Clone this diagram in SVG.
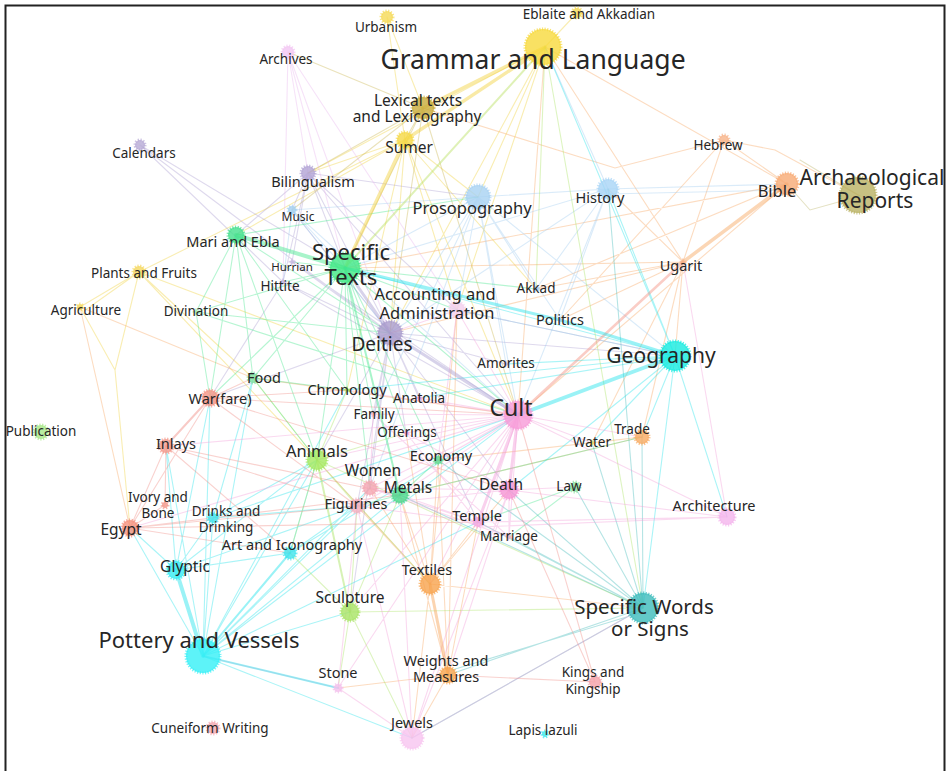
<svg xmlns="http://www.w3.org/2000/svg" width="951" height="771" viewBox="0 0 951 771">
<style>
.e{fill:none;stroke-width:1.1;stroke-opacity:.38;stroke-linecap:round}
.t{stroke-opacity:.45;stroke-linecap:round;fill:none}
.n{fill:currentColor;stroke:currentColor;stroke-width:3;stroke-dasharray:1.2 1.4;stroke-opacity:.7;fill-opacity:.8}
text{font-family:"Noto Sans","Liberation Sans",sans-serif;fill:#262626;text-anchor:middle}
.s13{font-size:13.5px}.s12{font-size:12px}.s14{font-size:14.5px}.s15{font-size:15.5px}.s16{font-size:16.5px}
</style>
<rect width="951" height="771" fill="#fff"/>
<path d="M5.5 771V5.5H944.5V771" fill="none" stroke="#222" stroke-width="2"/>
<g id="connectors">
<path class="e" stroke="#f0cf35" d="M545 47L577 13M545 47L390 333M545 47L457 310M545 47L308 173M545 47L478 197M387 17L405 140M387 17L423 108M405 140L308 173M405 140L236 235M405 140L390 333M405 140L457 310M405 140L478 197M405 140L518 415M405 140L536 289M405 140L347 390M139 272L405 140M139 272L80 307M139 272L84 311M139 272L115 370L130 528M139 272L317 460M139 272L253 378M139 272L518 415M80 307L115 370"/>
<path class="e" stroke="#c9b24a" d="M423 108L405 140M423 108L308 173M423 108L292 210M423 108L345 268M423 108L390 333M423 108L518 415M423 108L288 52"/>
<path class="e" stroke="#f7a35c" d="M545 47L518 415M545 47L787 184M545 47L683 262M423 108L615 168L724 140M724 140L787 184M724 140L775 150L860 196M724 140L683 262M724 140L560 320M787 184L518 415M787 184L536 289M787 184L345 268M683 262L675 356M683 262L536 289M683 262L390 333M683 262L642 437M683 262L592 443M683 262L560 320M683 262L608 189M683 262L345 268M642 437L592 443M642 437L400 495M642 437L438 460M430 584L478 522M430 584L509 490M430 584L438 460M430 584L400 495M430 584L357 506M430 584L370 488M430 584L643 608M430 584L406 433M430 584L412 738M430 584L317 460M448 675L412 738M448 675L338 688M448 675L400 495M448 675L438 460M448 675L478 522M457 310L430 584M457 310L448 675M80 307L253 378L518 415M80 307L130 528"/>
<path class="e" stroke="#b7b062" d="M860 196L810 210L787 184M860 196L800 160"/>
<path class="e" stroke="#a79bd0" d="M140 145L390 333M140 145L345 268M140 145L283 282M308 173L345 268M308 173L390 333M308 173L283 282M308 173L292 262M308 173L292 210M308 173L478 197M308 173L518 415M308 173L457 310M308 173L236 235M390 333L419 398M390 333L373 414M390 333L406 433M390 333L478 522M390 333L509 490M390 333L357 506M390 333L210 398M390 333L283 282M390 333L292 262M390 333L292 210M390 333L675 356M390 333L506 364M390 333L350 612M390 333L317 460M390 333L370 488M283 282L210 398M283 282L518 415M292 262L518 415"/>
<path class="e" stroke="#e8b4ec" d="M288 52L308 173M288 52L345 268M288 52L457 310M288 52L390 333M288 52L283 282"/>
<path class="e" stroke="#9ecaf0" d="M292 210L345 268M292 210L390 333M292 210L518 415M292 210L283 282M292 210L478 197M478 197L390 333M478 197L518 415M478 197L608 189M478 197L457 310M478 197L675 356M478 197L560 320M478 197L536 289M478 197L506 364M478 197L373 414M478 197L370 488M478 197L345 268M608 189L787 184M608 194L784 190M608 189L560 320M608 189L518 415M608 189L390 333M608 189L536 289M545 47L608 189M608 189L345 268"/>
<path class="e" stroke="#20e2ea" d="M675 356L345 268M675 356L608 189M675 356L545 47M675 356L506 364M675 356L643 608M675 356L642 437M675 356L592 443M675 356L727 517M675 356L419 398M675 356L347 390M675 356L457 310M675 356L509 490M203 656L213 518M203 656L317 460M203 656L350 612M203 656L357 506M203 656L370 488M203 656L400 495M203 656L166 446M203 656L130 528M203 656L412 738M203 656L518 415M203 656L478 522M203 656L253 378M203 656L347 390M203 656L210 398M176 570L290 553M176 570L130 528M176 570L213 518M176 570L357 506M176 570L210 398M176 570L166 446M176 570L317 460M290 553L357 506M290 553L518 415M290 553L317 460M213 518L357 506M213 518L317 460M213 518L253 378M213 518L518 415"/>
<path class="e" stroke="#3ee68a" d="M236 235L253 378M236 235L210 398M236 235L347 390M236 235L317 460M236 235L390 333M236 235L478 197M236 235L196 312M345 268L518 415M345 268L457 310M345 268L373 414M345 268L406 433M345 268L317 460M345 268L347 390M345 268L283 282M345 268L292 262M345 268L210 398M345 268L253 378M345 268L438 460M345 268L370 488M345 268L536 289M345 268L196 312M400 495L357 506M400 495L438 460M400 495L642 437M575 487L478 522M575 487L509 537M253 378L347 390M253 378L317 460M196 312L390 333M196 312L210 398M196 312L518 415"/>
<path class="e" stroke="#a6e35d" d="M317 460L357 506M317 460L290 553M317 460L643 608M317 460L430 584M317 460L253 378M317 460L347 390M317 460L406 433M350 612L290 553M350 612L357 506M350 612L338 688M350 612L412 738M350 612L643 608M350 612L400 495M545 47L643 608M545 47L536 289"/>
<path class="e" stroke="#3cb8b8" d="M643 608L592 443M643 608L575 487M643 608L478 522M643 608L509 490M643 608L509 537M643 608L448 675M643 612L452 670M643 608L642 437M643 608L438 460M643 608L400 495M643 608L608 189M643 608L412 738"/>
<path class="e" stroke="#f08a80" d="M130 528L165 505M130 528L166 446M130 528L210 398M130 528L357 506M130 528L213 518M130 528L290 553M130 528L478 522M130 528L400 495M210 398L253 378M210 398L347 390M210 398L357 506M210 398L518 415M210 398L509 490M166 446L165 505M166 446L357 506M166 446L290 553M166 446L400 495M595 682L518 415M595 682L509 490M595 682L448 675M370 488L357 506"/>
<path class="e" stroke="#f29ad8" d="M518 415L406 433M518 415L357 506M518 415L412 738M518 415L727 517M518 415L509 537M518 415L370 488M518 415L400 495M518 415L317 460M518 415L430 584M518 415L166 446M518 415L438 460M518 415L130 528M518 415L338 688M518 415L350 612M518 415L592 443M518 415L642 437M518 415L347 390M518 415L419 398M518 415L373 414M727 517L478 522M727 517L480 527M727 517L509 490M727 517L683 262M509 490L509 537M509 490L357 506M509 490L370 488M509 490L406 433M509 490L575 487M509 490L412 738M509 490L448 675M478 522L357 506M478 522L400 495M478 522L406 433M478 522L370 488M478 522L509 537M412 738L338 688M412 738L357 506M412 738L643 608M412 738L400 495M338 688L357 506M338 688L203 656M457 310L438 460M457 310L518 415M457 310L390 333M457 310L675 356M370 488L373 414M370 488L509 537M370 488L400 495M373 414L509 537"/>
<path class="t" stroke="#f2d03a" stroke-width="3.5" d="M545 47L423 108M545 47L405 140M405 140L345 268"/>
<path class="t" stroke="#b8e060" stroke-width="2" d="M545 47L345 268"/>
<path class="t" stroke="#f7a35c" stroke-width="3.5" d="M787 184L683 262"/>
<path class="t" stroke="#f7a050" stroke-width="3" d="M430 584L448 675"/>
<path class="t" stroke="#f59080" stroke-width="2.5" d="M683 262L518 415"/>
<path class="t" stroke="#a79bd0" stroke-width="3" d="M390 333L518 415M345 268L390 333"/>
<path class="t" stroke="#3ee68a" stroke-width="4" d="M236 235L345 268"/>
<path class="t" stroke="#3ee68a" stroke-width="2" d="M345 268L400 495"/>
<path class="t" stroke="#20e2ea" stroke-width="3" d="M675 356L560 320M345 268L560 320"/>
<path class="t" stroke="#20e2ea" stroke-width="4" d="M675 356L518 415M203 656L176 570"/>
<path class="t" stroke="#20e2ea" stroke-width="2" d="M203 656L290 553M203 656L338 688"/>
<path class="t" stroke="#a6e35d" stroke-width="2" d="M317 460L350 612"/>
<path class="t" stroke="#f08a80" stroke-width="2" d="M210 398L166 446"/>
<path class="t" stroke="#f29ad8" stroke-width="3" d="M518 415L509 490M518 415L478 522"/>
</g>
<g id="n-urbanism"><circle class="n" color="#f5da55" cx="387" cy="17" r="6"/><text class="s13" x="386" y="32">Urbanism</text></g>
<g id="n-eblaite"><circle class="n" color="#f5da55" cx="577" cy="13" r="5"/><text class="s13" x="589" y="19">Eblaite and Akkadian</text></g>
<g id="n-grammar"><circle class="n" color="#f7d93c" cx="543" cy="47" r="18"/><text style="font-size:26.5px" x="533" y="69">Grammar and Language</text></g>
<g id="n-lexical"><circle class="n" color="#c8ab3a" cx="423" cy="108" r="11"/><text class="s15" x="418" y="106">Lexical texts</text><text class="s15" x="417" y="122">and Lexicography</text></g>
<g id="n-sumer"><circle class="n" color="#f5d845" cx="405" cy="140" r="8"/><text class="s15" x="409" y="153">Sumer</text></g>
<g id="n-archives"><circle class="n" color="#f2c6f2" cx="288" cy="52" r="6"/><text class="s13" x="286" y="64">Archives</text></g>
<g id="n-calendars"><circle class="n" color="#b7aad6" cx="140" cy="145" r="5"/><text class="s13" x="144" y="158">Calendars</text></g>
<g id="n-bilingualism"><circle class="n" color="#b1a3d4" cx="308" cy="173" r="7"/><text class="s14" x="313" y="187">Bilingualism</text></g>
<g id="n-music"><circle class="n" color="#a4d0f0" cx="292" cy="210" r="4"/><text class="s12" x="298" y="221">Music</text></g>
<g id="n-mari"><circle class="n" color="#44e08c" cx="236" cy="235" r="8"/><text class="s14" x="233" y="247">Mari and Ebla</text></g>
<g id="n-hurrian"><circle class="n" color="#c8b8e0" cx="292" cy="262" r="2"/><text style="font-size:11.5px" x="292" y="271">Hurrian</text></g>
<g id="n-hittite"><circle class="n" color="#c8b8e0" cx="283" cy="282" r="2"/><text class="s13" x="280" y="291">Hittite</text></g>
<g id="n-specific-texts"><circle class="n" color="#40e884" cx="345" cy="268" r="15"/><text style="font-size:22px" x="351" y="260">Specific</text><text style="font-size:22px" x="351" y="285">Texts</text></g>
<g id="n-prosopography"><circle class="n" color="#a8d2f2" cx="478" cy="197" r="12"/><text class="s16" x="472" y="214">Prosopography</text></g>
<g id="n-history"><circle class="n" color="#a8d4f6" cx="608" cy="189" r="10"/><text class="s14" x="600" y="203">History</text></g>
<g id="n-hebrew"><circle class="n" color="#f8b48a" cx="724" cy="140" r="5"/><text class="s13" x="718" y="150">Hebrew</text></g>
<g id="n-bible"><circle class="n" color="#f8aa74" cx="787" cy="184" r="11"/><text class="s16" x="777" y="197">Bible</text></g>
<g id="n-archaeological"><circle class="n" color="#b9b263" cx="858" cy="195" r="18"/><text style="font-size:21px" x="872" y="185">Archaeological</text><text style="font-size:21px" x="875" y="208">Reports</text></g>
<g id="n-ugarit"><circle class="n" color="#f8b48a" cx="683" cy="262" r="2"/><text class="s14" x="681" y="271">Ugarit</text></g>
<g id="n-plants"><circle class="n" color="#f5d860" cx="139" cy="272" r="6"/><text class="s13" x="144" y="278">Plants and Fruits</text></g>
<g id="n-agriculture"><circle class="n" color="#f5d860" cx="80" cy="307" r="3"/><text class="s13" x="86" y="315">Agriculture</text></g>
<g id="n-divination"><circle class="n" color="#a8e8b0" cx="196" cy="312" r="2"/><text class="s13" x="196" y="316">Divination</text></g>
<g id="n-accounting"><circle class="n" color="#f4d0ee" cx="457" cy="310" r="8"/><text class="s16" x="435" y="300">Accounting and</text><text class="s16" x="437" y="319">Administration</text></g>
<g id="n-akkad"><circle class="n" color="#a4d0f0" cx="536" cy="289" r="2"/><text class="s13" x="536" y="293">Akkad</text></g>
<g id="n-politics"><circle class="n" color="#a4d0f0" cx="560" cy="320" r="2"/><text class="s14" x="560" y="325">Politics</text></g>
<g id="n-deities"><circle class="n" color="#a99bcc" cx="390" cy="333" r="12"/><text style="font-size:19px" x="382" y="351">Deities</text></g>
<g id="n-geography"><circle class="n" color="#14ebe0" cx="675" cy="356" r="15"/><text style="font-size:21px" x="661" y="363">Geography</text></g>
<g id="n-amorites"><circle class="n" color="#c8b8e0" cx="506" cy="364" r="2"/><text class="s13" x="506" y="368">Amorites</text></g>
<g id="n-food"><circle class="n" color="#80e0a0" cx="253" cy="378" r="5"/><text class="s14" x="264" y="383">Food</text></g>
<g id="n-warfare"><circle class="n" color="#f49484" cx="210" cy="398" r="8"/><text class="s14" x="220" y="404">War(fare)</text></g>
<g id="n-chronology"><circle class="n" color="#a6e35d" cx="347" cy="390" r="2"/><text class="s14" x="347" y="395">Chronology</text></g>
<g id="n-anatolia"><circle class="n" color="#f29ad8" cx="419" cy="398" r="2"/><text class="s13" x="419" y="403">Anatolia</text></g>
<g id="n-cult"><circle class="n" color="#f79ad8" cx="518" cy="415" r="14"/><text style="font-size:23px" x="511" y="416">Cult</text></g>
<g id="n-family"><circle class="n" color="#f4b0c0" cx="373" cy="414" r="2"/><text class="s13" x="374" y="419">Family</text></g>
<g id="n-offerings"><circle class="n" color="#f29ad8" cx="406" cy="433" r="2"/><text class="s13" x="407" y="437">Offerings</text></g>
<g id="n-trade"><circle class="n" color="#f8aa60" cx="642" cy="437" r="7"/><text class="s13" x="632" y="434">Trade</text></g>
<g id="n-water"><circle class="n" color="#f5d860" cx="592" cy="443" r="2"/><text class="s13" x="592" y="447">Water</text></g>
<g id="n-publication"><circle class="n" color="#a8e888" cx="41" cy="432" r="7"/><text class="s13" x="41" y="436">Publication</text></g>
<g id="n-inlays"><circle class="n" color="#f49a8c" cx="166" cy="446" r="7"/><text class="s14" x="176" y="449">Inlays</text></g>
<g id="n-animals"><circle class="n" color="#a4e85e" cx="317" cy="460" r="10"/><text class="s16" x="317" y="457">Animals</text></g>
<g id="n-economy"><circle class="n" color="#60d890" cx="438" cy="460" r="4"/><text class="s14" x="441" y="461">Economy</text></g>
<g id="n-women"><circle class="n" color="#f4a4b0" cx="370" cy="488" r="7"/><text class="s15" x="373" y="476">Women</text></g>
<g id="n-metals"><circle class="n" color="#48d88c" cx="400" cy="495" r="8"/><text class="s15" x="408" y="493">Metals</text></g>
<g id="n-death"><circle class="n" color="#f594d4" cx="509" cy="490" r="9"/><text class="s15" x="501" y="490">Death</text></g>
<g id="n-law"><circle class="n" color="#8ee0a0" cx="575" cy="487" r="5"/><text class="s13" x="569" y="491">Law</text></g>
<g id="n-ivory"><circle class="n" color="#f49a8c" cx="165" cy="505" r="3"/><text class="s13" x="158" y="502">Ivory and</text><text class="s13" x="158" y="518">Bone</text></g>
<g id="n-drinks"><circle class="n" color="#40e4ec" cx="213" cy="518" r="5"/><text class="s13" x="226" y="516">Drinks and</text><text class="s13" x="226" y="532">Drinking</text></g>
<g id="n-figurines"><circle class="n" color="#f4b0c0" cx="357" cy="506" r="7"/><text class="s14" x="356" y="509">Figurines</text></g>
<g id="n-temple"><circle class="n" color="#f4a8e4" cx="478" cy="522" r="5"/><text class="s14" x="477" y="521">Temple</text></g>
<g id="n-marriage"><circle class="n" color="#f4b0c0" cx="509" cy="537" r="2"/><text class="s13" x="509" y="541">Marriage</text></g>
<g id="n-architecture"><circle class="n" color="#f4b4ec" cx="727" cy="517" r="8"/><text class="s14" x="714" y="511">Architecture</text></g>
<g id="n-egypt"><circle class="n" color="#f4907c" cx="130" cy="528" r="8"/><text class="s15" x="121" y="535">Egypt</text></g>
<g id="n-art"><circle class="n" color="#3fe4ec" cx="290" cy="553" r="6"/><text class="s14" x="292" y="550">Art and Iconography</text></g>
<g id="n-glyptic"><circle class="n" color="#34ecf4" cx="176" cy="570" r="9"/><text class="s15" x="185" y="572">Glyptic</text></g>
<g id="n-textiles"><circle class="n" color="#f8a34c" cx="430" cy="584" r="10"/><text class="s14" x="427" y="575">Textiles</text></g>
<g id="n-specific-words"><circle class="n" color="#3cbcbc" cx="643" cy="608" r="15"/><text style="font-size:20.5px" x="644" y="614">Specific Words</text><text style="font-size:20.5px" x="650" y="636">or Signs</text></g>
<g id="n-sculpture"><circle class="n" color="#a8e464" cx="350" cy="612" r="9"/><text class="s15" x="350" y="603">Sculpture</text></g>
<g id="n-pottery"><circle class="n" color="#34f0f6" cx="203" cy="656" r="17"/><text style="font-size:22px" x="199" y="648">Pottery and Vessels</text></g>
<g id="n-stone"><circle class="n" color="#f4c0ec" cx="338" cy="688" r="4"/><text class="s14" x="338" y="678">Stone</text></g>
<g id="n-weights"><circle class="n" color="#f8a44c" cx="448" cy="675" r="8"/><text class="s14" x="446" y="666">Weights and</text><text class="s14" x="446" y="682">Measures</text></g>
<g id="n-kings"><circle class="n" color="#f4a0a8" cx="595" cy="682" r="6"/><text class="s13" x="593" y="677">Kings and</text><text class="s13" x="593" y="694">Kingship</text></g>
<g id="n-cuneiform"><circle class="n" color="#f4a8b0" cx="213" cy="728" r="6"/><text class="s13" x="210" y="733">Cuneiform Writing</text></g>
<g id="n-jewels"><circle class="n" color="#f8c4f0" cx="412" cy="738" r="11"/><text class="s14" x="412" y="728">Jewels</text></g>
<g id="n-lapis"><circle class="n" color="#40e8f0" cx="545" cy="734" r="3"/><text class="s13" x="543" y="735">Lapis lazuli</text></g>
</svg>
